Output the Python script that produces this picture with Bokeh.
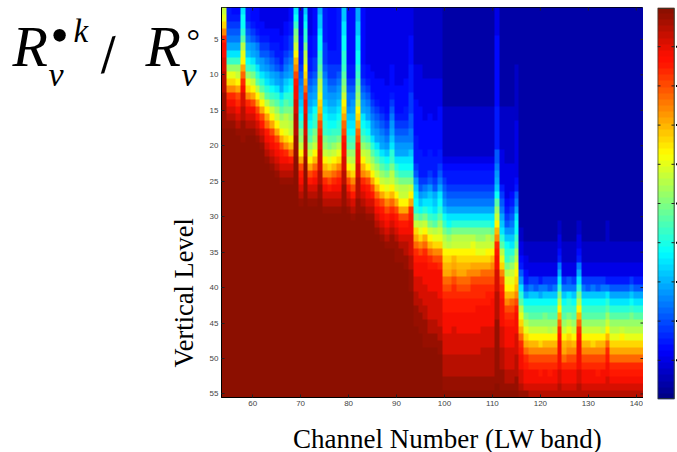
import math
import numpy as np
from bokeh.core.properties import value
from bokeh.embed import file_html
from bokeh.resources import INLINE
from bokeh.layouts import column, row
from bokeh.plotting import figure
from bokeh.models import FixedTicker, LinearColorMapper, Range1d

channel_ticks = [60, 70, 80, 90, 100, 110, 120, 130, 140]
level_ticks = [5, 10, 15, 20, 25, 30, 35, 40, 45, 50, 55]
bar_ticks = [0.1, 0.2, 0.3, 0.4, 0.5, 0.6, 0.7, 0.8, 0.9]
first_channel = 54
levels = 55

# One string per channel, top level first; each character is a colour value 0-35 (0-9, a-z).
# Missing trailing levels are saturated (z).
TOP30 = "1111111111" "1111111111" "1111111111"
T = "1111111111" "1111222222"
c54 = "klnqtvvwwx" "xxyyyyy"
c55 = "55678acfil" "nqtvwxy"
c56 = "45678acfil" "nqtvwxy"
c57 = "45678acfik" "mpstvwxy"
c58 = "cddegjlmpr" "tvwwxxyyy"
c59 = "55678abdfi" "lnqtvwxy"
c60 = "445679aceh" "kmpsvwxy"
c61 = "4445689ace" "gjmpsuwxy"
c62 = "33445679ac" "egjmpsuwxy"
c63 = "333456789b" "cegjmpruvw" "xy"
c64 = "333445678a" "bdfhkmpsuv" "wxy"
c65 = "3334455679" "acegikmpsu" "vwxy"
c66 = "3333445568" "9acegikmps" "uvwxy"
c67 = "3344556789" "bceghjklnq" "tvwxy"
c68 = "445566789a" "cdefhijkmo" "ruwxy"
c69 = "cdfhikmoqs" "uvvwwxxxyy" "y"
c70 = "3333445567" "89abcdfhik" "mpsuvwxy"
c71 = "bcdefhjkmn" "prtvvwwwxx" "xy"
c72 = "3333444556" "789abcdfgi" "kmpsuwxy"
c73 = "4444555667" "89abdefhik" "mortvwxy"
c74 = "abbcddefgh" "jklnoqstvv" "wwwxxyy"
c75 = "5555566678" "9aabcdefhi" "kmoqtvwxy"
c76 = "4444445566" "789abcdegh" "jlnqsuwxy"
c77 = "4444445566" "789abcdfgi" "kmortvwxy"
c78 = "5555555567" "89abcdefhj" "lnqsuvwxy"
c79 = "bbccddeefg" "hikmnprsuv" "vwwxxyyy"
c80 = "4444444455" "67889bcdfg" "ikmpsuwxy"
c81 = "4444444455" "6789abcdfg" "ijlnqsuwxy"
c82 = "aabbccddef" "ghijmnprsu" "vvwwxxxyy"
c83 = "4444444455" "6789acdegi" "kmoqtvwxy"
c84 = "3333333344" "56789acdfh" "jkmpsuvwxy"
c85 = "3333333334" "4456789ace" "gikmpsuwxy"
c86 = "3333333333" "44456789ac" "egikmortvw" "xy"
c87 = "3333333333" "444456789a" "cegikmpsuv" "wxy"
c88 = "3333333333" "3444456789" "bdfhjlnqsu" "vwxy"
c89 = "3333333344" "4456789abc" "efhjkmortv" "wxyy"
c90 = "3333333333" "3444456789" "acegikmpsu" "vwxyyy"
c91 = "3333333333" "3444456789" "acdfhjkmps" "uvwxyy"
c92 = "3333333333" "4444556789" "acdfhjkmps" "uvwxxyy"
c93 = "3333444455" "5566677889" "bcdfhkmptu" "vvwwwxxyyy"
c94 = "2222222233" "3334444455" "55679bcdeh" "knprtuvvww" "xxyyy"
c95 = "2222222233" "3333444444" "5555679bdg" "jlnqsuvvww" "wxxyyy"
c96 = "2222222222" "3333334444" "455568aceh" "kmprtuvvvw" "wwxxyyyy"
c97 = "2222222222" "3333344444" "555679bcdf" "hkmortuvvv" "wwwwxxyy"
c98 = "2222222222" "3333334444" "455567abce" "gjlnqsuvvv" "wwwwxxyy"
c99 = "2222222222" "3333444444" "55678acdeg" "iklnqstvvv" "vwwwwxxyy"
c100 = T + "23456789bd" "fhjkmnoprs" "tuuvvvwwwx" "xxyyz"
c101 = T + "23455678ac" "dgijmnoprs" "tuuvvvwwwx" "xxyyz"
c102 = T + "23455678ac" "ehjkmopqst" "tuuvvwwwwx" "xxyyz"
c103 = T + "23455678ac" "ehjkmnoprs" "tuuvvvwwwx" "xxyyz"
c104 = T + "23455678ac" "ehjkmnoprs" "tuuvvvwwwx" "xxyyz"
c105 = T + "23455678ac" "ehjkmnoqrs" "tuuvvvwwwx" "xxyyz"
c106 = T + "23455678ac" "ehjlmnpqst" "tuuvvvwwwx" "xxyyz"
c107 = T + "23455678ac" "ehiklnpqst" "tuvvvvwwwx" "xxyyz"
c108 = T + "23455678ac" "ehiklnprst" "tuvvvwwwxx" "xxyyz"
c109 = T + "23455678ac" "ehjkmnprst" "uuvvvwwwxx" "xxyyz"
c110 = T + "23455678ac" "dgikmoqrst" "uvvvvwwwxx" "xxyyz"
c111 = "3333444444" "4444555555" "7789abdgik" "moqtuvvwww" "xxxxyyyyyy" "yyyzz"
c112 = T + "333335678a" "bcegjlnqst" "uvvvvwwwxx" "xyyyz"
c113 = T + "2233333456" "79bdefhjlm" "oqstuvvvww" "wxxyz"
c114 = T + "2233334567" "89bcegiklm" "orstuvvvww" "wxxyz"
c115 = "1111111122" "2222223333" "33334578ac" "ddfgijlmno" "qsuvvvwwwx" "xxyyz"
c116 = TOP30 + "122334579c" "egjlnprtuv" "vwwxy"
c117 = TOP30 + "1112233457" "adfhjlnprt" "uvvwy"
c118 = TOP30 + "1112223368" "bdfgikmoqs" "tvvwx"
c119 = TOP30 + "1112223367" "bdfgikmoqs" "tvvwx"
c120 = TOP30 + "1112223358" "adfgikmnqs" "tuvwx"
c121 = TOP30 + "1112223368" "bdfhikmoqs" "tvvwx"
c122 = TOP30 + "1112223367" "bdfgijmoqs" "tuvwx"
c123 = TOP30 + "1112223368" "bdfgikmoqs" "tvvwx"
c124 = TOP30 + "2233458ace" "hjmortuvvv" "vwwxx"
c125 = TOP30 + "1112223368" "bdfgikmopr" "tvvwx"
c126 = TOP30 + "1112223378" "cefhjlnpqs" "tvvwx"
c127 = TOP30 + "1112223368" "bdfgikmoqs" "tvvwx"
c128 = TOP30 + "2233458ace" "hjmortuvvv" "vwwxx"
c129 = TOP30 + "1112223368" "bdfgikmoqs" "tvvwx"
c130 = TOP30 + "1112223367" "bdfgikmoqs" "tvvwx"
c131 = TOP30 + "1112223368" "bdfgikmnqs" "tvvwx"
c132 = TOP30 + "1112223367" "bdfgikmoqs" "tuvwx"
c133 = TOP30 + "1112223368" "bdfgijmoqs" "tvvwx"
c134 = TOP30 + "2222223358" "cegikmortu" "vvwwx"
c135 = TOP30 + "1112223357" "acegijlnpr" "tuvwx"
c136 = TOP30 + "1112223357" "acegijlnpr" "tuvwx"
c137 = TOP30 + "1112223357" "acegikmnpr" "tuvwx"
c138 = TOP30 + "1112223357" "acegijlnpr" "tuvwx"
c139 = TOP30 + "1112223368" "bdfhijlnpr" "tuvwx"
c140 = TOP30 + "1112223357" "acegijlnpr" "tuvwx"
c141 = TOP30 + "1112223357" "acegijlnpr" "tuvwx"

columns = [globals()[f"c{n}"] for n in range(first_channel, first_channel + 88)]
columns = [s[:levels].ljust(levels, "z") for s in columns]
cells = np.array([[int(ch, 36) for ch in s] for s in columns], dtype=float).T

def jet(v):
    def band(x):
        return max(0.0, min(1.0, x))
    r = band(min(4*v-1.5, -4*v+4.5))
    g = band(min(4*v-0.5, -4*v+3.5))
    b = band(min(4*v+0.5, -4*v+2.5))
    if v > 0.75:  # the picture's reds lean a little towards orange
        r, g = max(r, 0.55), max(g, 0.06)
    return "#%02x%02x%02x" % (round(255*r), round(255*g), round(255*b))

JET = [jet((i + 0.5) / 64) for i in range(64)]
mapper = LinearColorMapper(palette=JET, low=-0.5, high=35)

SERIF = value("Liberation Serif")
TICK = "#222222"
LEFT_W, TOP_H = 203, 410
FL, FT, FW, FH = 221, 7, 422, 390

def blank(width, height, x0, x1, y0, y1):
    # A text-only panel whose data coordinates are the picture's own pixels
    f = figure(width=width, height=height, frame_width=width, frame_height=height, output_backend="svg",
               toolbar_location=None, x_range=Range1d(x0, x1), y_range=Range1d(y1, y0),
               min_border=0, outline_line_color=None, x_axis_location=None, y_axis_location=None)
    f.grid.visible = False
    return f

def lab(f, text, px, py, size, style="normal", angle=0.0):
    f.text(x=[px], y=[py], text=[text], text_font=SERIF, text_font_size=f"{size}px", text_font_style=style,
           angle=angle, text_align="left", text_baseline="alphabetic", text_color="black")

left = blank(LEFT_W, TOP_H, 0, LEFT_W, 0, TOP_H)
lab(left, "Vertical Level", 183, 360, 26.5, angle=math.pi / 2)
lab(left, "R", 12, 39, 58, "italic")
lab(left, "ν", 48, 67, 34, "italic")
lab(left, "•", 50, 28, 52)
lab(left, "k", 73, 23, 33, "italic")
lab(left, "/", 100, 48, 52, "bold italic", angle=0.18)
lab(left, "R", 145, 39, 58, "italic")
lab(left, "ν", 181, 67, 34, "italic")
lab(left, "°", 186, 33, 34)

p = figure(width=FL - LEFT_W + FW, height=TOP_H, frame_width=FW, frame_height=FH, output_backend="svg", toolbar_location=None,
           x_range=Range1d(53.5, 141.5), y_range=Range1d(55.5, 0.5),
           min_border_left=FL - LEFT_W, min_border_right=0, min_border_top=FT, min_border_bottom=TOP_H - FT - FH,
           outline_line_color="black")
p.grid.visible = False
p.image(image=[cells], x=53.5, y=0.5, dw=88, dh=55, color_mapper=mapper)

for ax, ticks in ((p.xaxis[0], channel_ticks), (p.yaxis[0], level_ticks)):
    ax.ticker = FixedTicker(ticks=ticks)
    ax.major_tick_in = 3
    ax.major_tick_out = 0
    ax.minor_tick_in = 0
    ax.minor_tick_out = 0
    ax.axis_line_color = "black"
    ax.major_tick_line_color = TICK
    ax.major_label_standoff = 3
    ax.major_label_text_font = "Liberation Sans"
    ax.major_label_text_font_size = "8px"
    ax.major_label_text_color = "#444444"

# Inward tick marks along the top and right edges of the box
xu, yu = 88 / FW, 55 / FH
p.segment(x0=channel_ticks, x1=channel_ticks, y0=[0.5] * 9, y1=[0.5 + 3 * yu] * 9, line_color=TICK, line_width=1)
p.segment(x0=[141.5] * 11, x1=[141.5 - 3 * xu] * 11, y0=level_ticks, y1=level_ticks, line_color=TICK, line_width=1)

# Colour bar: 17 px wide box inside a 20 px frame, so that the cropped label remnants fit
BW = 17
bar_values = (np.arange(64)[:, None] + 0.5) / 64 * 35.5 - 0.5
cb = figure(width=34, height=TOP_H, frame_width=20, frame_height=392, output_backend="svg", toolbar_location=None,
            x_range=Range1d(0, 20), y_range=Range1d(0, 1),
            min_border_left=14, min_border_right=0, min_border_top=FT, min_border_bottom=TOP_H - FT - 392,
            outline_line_color=None, x_axis_location=None, y_axis_location=None)
cb.grid.visible = False
cb.image(image=[bar_values], x=0, y=0, dw=BW, dh=1, color_mapper=mapper)
cb.quad(left=[0.3], right=[BW - 0.3], bottom=[0.002], top=[0.998], fill_color=None, line_color="#2f3d2f", line_width=1)
n = len(bar_ticks)
cb.segment(x0=[0] * n, x1=[3] * n, y0=bar_ticks, y1=bar_ticks, line_color=TICK)
cb.segment(x0=[BW - 3] * n, x1=[BW] * n, y0=bar_ticks, y1=bar_ticks, line_color=TICK)
cb.segment(x0=[BW + 1.5] * n, x1=[BW + 3] * n, y0=bar_ticks, y1=bar_ticks, line_color="black", line_width=2)

bottom = blank(677, 452 - TOP_H, 0, 677, TOP_H, 452)
lab(bottom, "Channel Number (LW band)", 292.5, 438, 27)

page = column(row(left, p, cb, spacing=0), bottom, spacing=0)
open("out.html", "w").write(file_html(page, INLINE))
